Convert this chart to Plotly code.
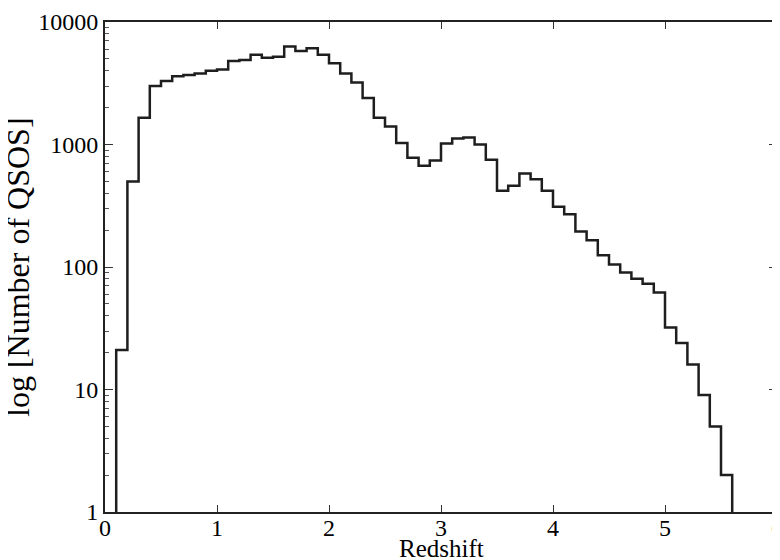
import numpy as np
import plotly.graph_objects as go

# redshift histogram, bins of 0.1 starting at z = 0.1
bin_edges = np.round(np.arange(0.1, 5.65, 0.1), 1)
counts = [21, 500, 1650, 3000, 3300, 3600, 3700, 3800, 4000, 4100,
          4800, 4900, 5400, 5100, 5200, 6300, 5800, 6100, 5400, 4600,
          3800, 3200, 2400, 1650, 1400, 1030, 780, 670, 740, 1020,
          1120, 1140, 1000, 750, 420, 460, 580, 520, 420, 310,
          270, 195, 165, 125, 105, 90, 80, 73, 62, 32,
          24, 16, 9, 5, 2]

x_ticks = [0, 1, 2, 3, 4, 5, 6]
y_ticks = [1, 10, 100, 1000, 10000]
y_minor = [m * d for d in [1, 10, 100, 1000] for m in range(2, 10)]

font = "Liberation Serif, Times New Roman, serif"

# step outline: start on the floor, walk the bins, drop back to the floor
xs = [bin_edges[0]] + list(bin_edges)
ys = [1] + counts + [1]

fig = go.Figure(go.Scatter(
    x=xs, y=ys, mode="lines", line_shape="hv",
    line=dict(color="#1e1e1e", width=2.5), hoverinfo="skip"))

# page body adds ~8px offset, margins compensate for it
fig.update_layout(
    width=780, height=560,
    margin=dict(l=97, r=11, t=14, b=56, autoexpand=False),
    paper_bgcolor="white", plot_bgcolor="white",
    showlegend=False,
    font=dict(family=font, size=24, color="black"),
)
fig.update_xaxes(
    range=[0, 6], tickvals=x_ticks, ticks="inside", ticklen=7,
    tickwidth=1, tickcolor="#333", mirror="ticks", showline=True,
    linecolor="#222", linewidth=2, showgrid=False, zeroline=False,
    automargin=False, tickfont=dict(size=24), ticklabelstandoff=-7,
)
fig.update_yaxes(
    type="log", range=[0, 4], tickvals=y_ticks, ticktext=[str(v) for v in y_ticks],
    ticks="inside", ticklen=8, tickwidth=1, tickcolor="#333",
    minor=dict(tickvals=y_minor, ticks="inside", ticklen=4, tickcolor="#555", showgrid=False),
    mirror="ticks", showline=True, linecolor="#222", linewidth=2,
    showgrid=False, zeroline=False, automargin=False, tickfont=dict(size=24),
)

fig.add_annotation(text="Redshift", xref="paper", yref="paper", x=0.5, y=-0.0755,
                   xanchor="center", yanchor="middle", showarrow=False,
                   font=dict(size=25))
fig.add_annotation(text="log [Number of QSOS]", xref="paper", yref="paper",
                   x=-0.1295, y=0.5, xanchor="center", yanchor="middle",
                   textangle=-90, showarrow=False, font=dict(size=32))

fig.write_html("out.html")
